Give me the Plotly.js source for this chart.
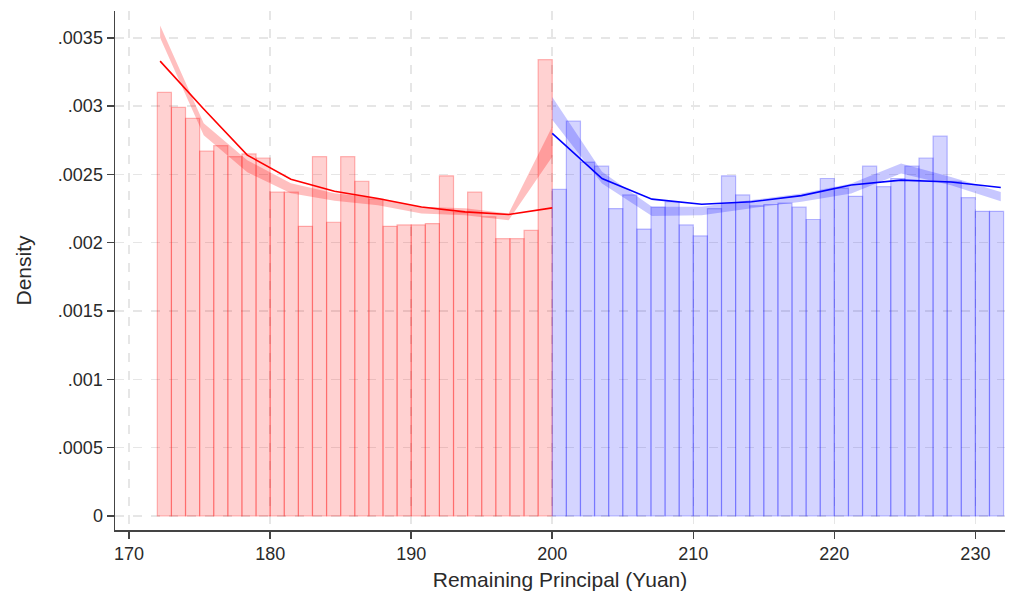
<!DOCTYPE html>
<html>
<head>
<meta charset="utf-8">
<script src="https://cdn.plot.ly/plotly-3.0.1.min.js"></script>
<style>html,body{margin:0;padding:0;background:#fff;}#chart{width:1010px;height:599px;}</style>
</head>
<body>
<div id="chart"></div>
<script>
// Histogram bins (left edges) and densities
const leftBins = [172,173,174,175,176,177,178,179,180,181,182,183,184,185,186,187,188,189,190,191,192,193,194,195,196,197,198,199];
const leftDensity = [0.00310,0.00299,0.00291,0.00267,0.00271,0.00263,0.00265,0.00262,0.00237,0.00237,0.00212,0.00263,0.00215,0.00263,0.00245,0.00232,0.00212,0.00213,0.00213,0.00214,0.00249,0.00222,0.00237,0.00219,0.00203,0.00203,0.00209,0.00334];
const rightBins = [200,201,202,203,204,205,206,207,208,209,210,211,212,213,214,215,216,217,218,219,220,221,222,223,224,225,226,227,228,229,230,231];
const rightDensity = [0.00239,0.00289,0.00259,0.00256,0.00225,0.00235,0.00210,0.00226,0.00230,0.00213,0.00205,0.00225,0.00249,0.00235,0.00227,0.00228,0.00229,0.00226,0.00217,0.00247,0.00240,0.00234,0.00256,0.00241,0.00247,0.00256,0.00262,0.00278,0.00245,0.00233,0.00223,0.00223];

// Fitted density lines
const leftGrid = [172.2,175.29,178.38,181.47,184.56,187.64,190.73,193.82,196.91,200];
const leftFit = [0.003329,0.002979,0.002641,0.002465,0.002377,0.002324,0.002262,0.002226,0.002207,0.002255];
const leftBandUpper = [0.00359,0.002875,0.002604,0.002436,0.002363,0.002326,0.002263,0.002253,0.002214,0.00285];
const leftBandLower = [0.00350,0.002787,0.002516,0.002363,0.002307,0.002275,0.002214,0.002202,0.002165,0.00263];

const rightGrid = [200,203.53,207.07,210.6,214.13,217.67,221.2,224.73,228.27,231.8];
const rightFit = [0.0028,0.00247,0.002319,0.002282,0.0023,0.002345,0.002422,0.002458,0.002444,0.002404];
const rightBandUpper = [0.003067,0.002519,0.002263,0.002263,0.002312,0.002361,0.002434,0.00258,0.002482,0.002372];
const rightBandLower = [0.00290,0.002434,0.002195,0.002202,0.002253,0.0023,0.002361,0.002507,0.002421,0.002304];

const xTicks = [170,180,190,200,210,220,230];
const yTicks = [0,0.0005,0.001,0.0015,0.002,0.0025,0.003,0.0035];
const yTickText = ['0','.0005','.001','.0015','.002','.0025','.003','.0035'];

const FONT = 'Liberation Sans, Arial, sans-serif';

const traces = [
  {type:'bar', x:leftBins.map(v=>v+0.5), y:leftDensity, width:1,
   marker:{color:'rgba(255,0,0,0.18)', line:{color:'rgba(255,0,0,0.28)', width:1.2}}, hoverinfo:'skip'},
  {type:'bar', x:rightBins.map(v=>v+0.5), y:rightDensity, width:1,
   marker:{color:'rgba(0,0,255,0.17)', line:{color:'rgba(0,0,255,0.25)', width:1.2}}, hoverinfo:'skip'},
  {type:'scatter', mode:'lines', x:leftGrid, y:leftBandLower, line:{width:0, color:'rgba(0,0,0,0)'}, hoverinfo:'skip'},
  {type:'scatter', mode:'lines', x:leftGrid, y:leftBandUpper, fill:'tonexty', fillcolor:'rgba(255,0,0,0.25)', line:{width:0, color:'rgba(0,0,0,0)'}, hoverinfo:'skip'},
  {type:'scatter', mode:'lines', x:rightGrid, y:rightBandLower, line:{width:0, color:'rgba(0,0,0,0)'}, hoverinfo:'skip'},
  {type:'scatter', mode:'lines', x:rightGrid, y:rightBandUpper, fill:'tonexty', fillcolor:'rgba(0,0,255,0.22)', line:{width:0, color:'rgba(0,0,0,0)'}, hoverinfo:'skip'},
  {type:'scatter', mode:'lines', x:leftGrid, y:leftFit, line:{color:'#ff0000', width:1.6}, hoverinfo:'skip'},
  {type:'scatter', mode:'lines', x:rightGrid, y:rightFit, line:{color:'#0000ff', width:1.6}, hoverinfo:'skip'}
];

const layout = {
  width:1010, height:599,
  margin:{l:115, r:5, t:11, b:69},
  paper_bgcolor:'#ffffff', plot_bgcolor:'#ffffff',
  showlegend:false, barmode:'overlay', bargap:0,
  font:{family:FONT, size:18, color:'#333333'},
  xaxis:{range:[169.0,232.1], tickvals:xTicks, ticktext:xTicks.map(String),
    showline:true, linecolor:'#444444', linewidth:1.5, ticks:'outside', ticklen:7, tickcolor:'#444444', tickwidth:1.5,
    showgrid:true, gridcolor:'#e6e6e6', griddash:'dash', gridwidth:1.5, zeroline:false,
    tickfont:{family:FONT, size:18, color:'#2a2a2a'},
    title:{text:'Remaining Principal (Yuan)', font:{family:FONT, size:21, color:'#2a2a2a'}, standoff:9}},
  yaxis:{range:[-0.0001024,0.003696], tickvals:yTicks, ticktext:yTickText,
    showline:true, linecolor:'#444444', linewidth:1.5, ticks:'outside', ticklen:7, tickcolor:'#444444', tickwidth:1.5,
    showgrid:true, gridcolor:'#e6e6e6', griddash:'dash', gridwidth:1.5, zeroline:false,
    tickfont:{family:FONT, size:18, color:'#2a2a2a'},
    title:{text:'Density', font:{family:FONT, size:21, color:'#2a2a2a'}, standoff:20}}
};

Plotly.newPlot('chart', traces, layout, {displayModeBar:false, staticPlot:true});
</script>
</body>
</html>
